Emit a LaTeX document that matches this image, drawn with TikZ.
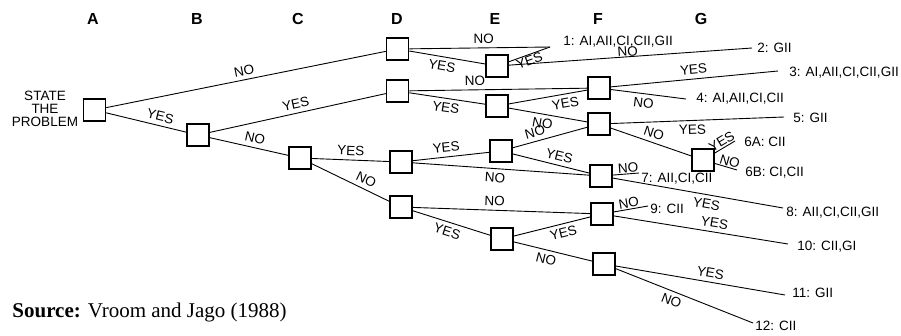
\documentclass[tikz,border=0pt]{standalone}
\usepackage{fontspec}
\setmainfont{Liberation Serif}
\setsansfont{Liberation Sans}
\begin{document}
\begin{tikzpicture}[x=1pt,y=-1pt,line width=.9pt,
  box/.style={draw, line width=1.5pt, minimum size=22pt, inner sep=0pt, fill=white},
  lbl/.style={font=\sffamily\fontsize{13.5}{13.5}\selectfont, inner sep=4pt, sloped},
  outc/.style={font=\sffamily\fontsize{13.5}{13.5}\selectfont, anchor=west, inner sep=0pt},
  head/.style={font=\sffamily\bfseries\fontsize{16}{16}\selectfont}]
\useasboundingbox (0,0) rectangle (901,335);
% column heads
\foreach \c/\x in {A/93,B/197,C/298,D/397,E/495,F/598,G/701}
  \node[head] (h\c) at (\x,19) {\c};
\node[align=center, font=\sffamily\fontsize{13.5}{13}\selectfont] (state) at (45,109) {STATE\\THE\\PROBLEM};
% decision boxes
\node[box] (a) at (94.5,110) {};
\node[box] (b) at (198,135) {};
\node[box] (c) at (300,158) {};
\node[box] (d1) at (397.5,49) {};
\node[box] (d2) at (397.5,91) {};
\node[box] (d3) at (401,162) {};
\node[box] (d4) at (401,207) {};
\node[box] (e1) at (497,66) {};
\node[box] (e2) at (497,106) {};
\node[box] (e3) at (501,151) {};
\node[box] (e4) at (502,239) {};
\node[box] (f1) at (599,88) {};
\node[box] (f2) at (599,124) {};
\node[box] (f3) at (601,176) {};
\node[box] (f4) at (602,214) {};
\node[box] (f5) at (604,264) {};
\node[box] (g) at (703,160) {};
% line ends
\coordinate (o1) at (550,47);
\coordinate (o2) at (752,48);
\coordinate (o3) at (778,71);
\coordinate (o4) at (686,99);
\coordinate (o5) at (784,117);
\coordinate (o6a) at (735,141);
\coordinate (o6b) at (737,170);
\coordinate (o7) at (639,173);
\coordinate (o8) at (783,208);
\coordinate (o9) at (648,206);
\coordinate (o10) at (788,244);
\coordinate (o11) at (785,295);
\coordinate (o12) at (753,323);
% branches
\draw (a) -- node[lbl, above] {NO} (d1);
\draw (a) -- node[lbl, above, pos=.65] {YES} (b);
\draw (b) -- node[lbl, above] {YES} (d2);
\draw (b) -- node[lbl, above, pos=.55] {NO} (c);
\draw (c) -- node[lbl, above] {YES} (d3);
\draw (c) -- node[lbl, above, pos=.65] {NO} (d4);
\draw (d1) -- node[lbl, above, pos=.53] {NO} (o1);
\draw (d1) -- node[lbl, below, pos=.45] {YES} (e1);
\draw (e1) -- node[lbl, below, pos=.45, inner sep=1pt] {YES} (o1);
\draw (e1) -- node[lbl, above, pos=.49, inner sep=0pt] {NO} (o2);
\draw (d2) -- node[lbl, below] {YES} (e2);
\draw (d2) -- node[lbl, above, pos=.37] {NO} (f1);
\draw (e2) -- node[lbl, below, pos=.7] {YES} (f1);
\draw (e2) -- node[lbl, below, pos=.45] {NO} (f2);
\draw (e3) -- node[lbl, above, pos=.33] {NO} (f2);
\draw (f1) -- node[lbl, above] {YES} (o3);
\draw (f1) -- node[lbl, below, pos=.45] {NO} (o4);
\draw (f2) -- node[lbl, below, pos=.47] {YES} (o5);
\draw (f2) -- node[lbl, above] {NO} (g);
\draw (g) -- node[lbl, above, inner sep=1pt] {YES} (o6a);
\draw (g) -- node[lbl, above, pos=.6, inner sep=1pt] {NO} (o6b);
\draw (d3) -- node[lbl, above, pos=.45] {YES} (e3);
\draw (d3) -- node[lbl, below, pos=.47] {NO} (f3);
\draw (e3) -- node[lbl, above, pos=.58] {YES} (f3);
\draw (f3) -- node[lbl, above, pos=.6, inner sep=1pt] {NO} (o7);
\draw (f3) -- node[lbl, below, pos=.56] {YES} (o8);
\draw (d4) -- node[lbl, above, pos=.46] {NO} (f4);
\draw (d4) -- node[lbl, below, pos=.48] {YES} (e4);
\draw (e4) -- node[lbl, below, pos=.62] {YES} (f4);
\draw (e4) -- node[lbl, below, pos=.44] {NO} (f5);
\draw (f4) -- node[lbl, above, pos=.47, inner sep=1pt] {NO} (o9);
\draw (f4) -- node[lbl, above, pos=.57] {YES} (o10);
\draw (f5) -- node[lbl, above, pos=.55] {YES} (o11);
\draw (f5) -- node[lbl, below, pos=.43] {NO} (o12);
% outcomes
\node[outc] (t1) at (563,42) {1: AI,AII,CI,CII,GII};
\node[outc] (t2) at (757,48) {2: GII};
\node[outc] (t3) at (789,73) {3: AI,AII,CI,CII,GII};
\node[outc] (t4) at (696,99) {4: AI,AII,CI,CII};
\node[outc] (t5) at (793,118) {5: GII};
\node[outc] (t6a) at (744,142) {6A: CII};
\node[outc] (t6b) at (745,173) {6B: CI,CII};
\node[outc] (t7) at (641,179) {7: AII,CI,CII};
\node[outc] (t8) at (786,213) {8: AII,CI,CII,GII};
\node[outc] (t9) at (650,209) {9: CII};
\node[outc] (t10) at (797,247) {10: CII,GI};
\node[outc] (t11) at (792,293) {11: GII};
\node[outc] (t12) at (755,326) {12: CII};
\node[anchor=base west, inner sep=0pt, font=\fontsize{21}{21}\selectfont] (src) at (12,317) {\textbf{Source:} Vroom and Jago (1988)};
\end{tikzpicture}
\end{document}
